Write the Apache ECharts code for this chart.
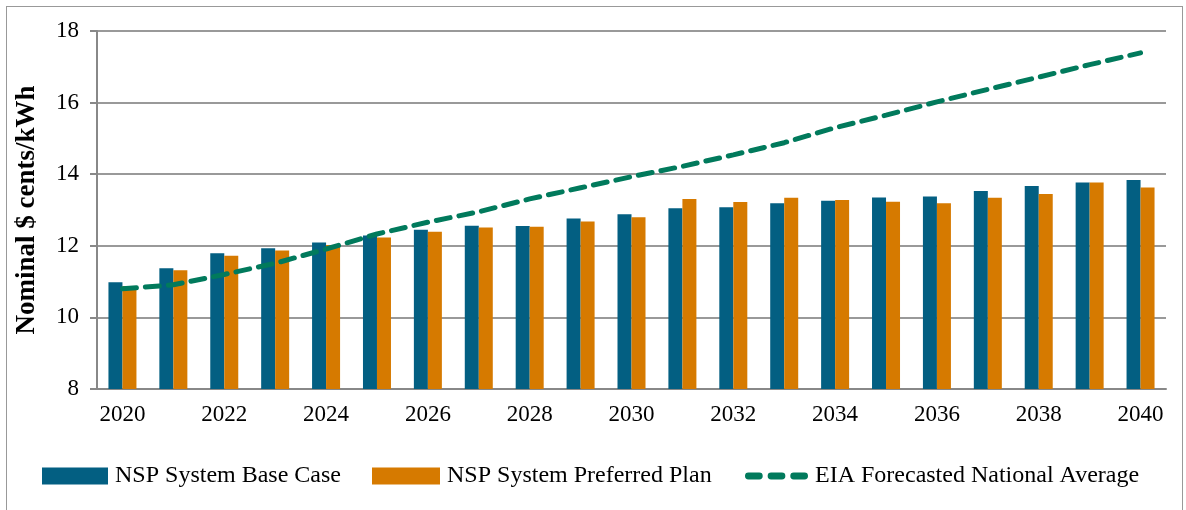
<!DOCTYPE html>
<html>
<head>
<meta charset="utf-8">
<script src="https://cdn.jsdelivr.net/npm/echarts@6/dist/echarts.min.js"></script>
<style>
  html, body { margin: 0; padding: 0; background: #fff; }
  #frame { position: absolute; left: 6px; top: 6px; width: 1177px; height: 510px; border: 1px solid #999; box-sizing: border-box; }
  #chart { width: 1186px; height: 510px; position: absolute; left: 0; top: 0; }
</style>
</head>
<body>
<div id="frame"></div>
<div id="chart"></div>
<script>
    // years on the x axis
    var years = [];
    for (var y = 2020; y <= 2040; y++) years.push(String(y));

    var baseCase = [10.98, 11.37, 11.79, 11.93, 12.09, 12.29, 12.45, 12.56, 12.55, 12.76, 12.88,
                    13.05, 13.08, 13.19, 13.26, 13.35, 13.38, 13.53, 13.67, 13.77, 13.84];
    var preferredPlan = [10.88, 11.32, 11.72, 11.87, 12.02, 12.23, 12.39, 12.51, 12.53, 12.68, 12.80,
                         13.31, 13.22, 13.34, 13.28, 13.23, 13.19, 13.34, 13.45, 13.77, 13.63];
    var eiaAverage = [10.80, 10.91, 11.20, 11.51, 11.91, 12.33, 12.66, 12.95, 13.31, 13.62, 13.93,
                      14.22, 14.54, 14.88, 15.30, 15.65, 16.02, 16.37, 16.71, 17.06, 17.39];

    var fontFam = '"Liberation Serif", "DejaVu Serif", serif';
    var legendText = { fontFamily: fontFam, fontSize: 24, color: '#000', padding: [0, 0, 0, 2] };
    // three short dashes, like the dashed line key
    var dashIcon = 'path://M3,0h11a3,3 0 0 1 0,7h-11a3,3 0 0 1 0,-7z' +
                   'M26,0h11a3,3 0 0 1 0,7h-11a3,3 0 0 1 0,-7z' +
                   'M49,0h11a3,3 0 0 1 0,7h-11a3,3 0 0 1 0,-7z';

    var chart = echarts.init(document.getElementById('chart'));

    chart.setOption({
        animation: false,
        textStyle: { fontFamily: fontFam },
        grid: { left: 97, right: 20, top: 31, bottom: 121 },
        legend: [{
            top: 464, left: 42, padding: 0, itemWidth: 66, itemHeight: 17, icon: 'rect',
            textStyle: legendText, data: ['NSP System Base Case']
        }, {
            top: 464, left: 372, padding: 0, itemWidth: 68, itemHeight: 17, icon: 'rect',
            textStyle: legendText, data: ['NSP System Preferred Plan']
        }, {
            top: 464, left: 745, padding: 0, itemWidth: 63, itemHeight: 7, icon: dashIcon,
            textStyle: legendText, data: ['EIA Forecasted National Average']
        }],
        xAxis: {
            type: 'category',
            data: years,
            axisLine: { lineStyle: { color: '#888', width: 2 } },
            axisTick: { interval: 0, length: 7, lineStyle: { color: '#888', width: 2 } },
            axisLabel: { interval: 1, color: '#000', fontSize: 23, margin: 14 }
        },
        yAxis: {
            type: 'value',
            min: 8,
            max: 18,
            interval: 2,
            name: 'Nominal $ cents/kWh',
            nameLocation: 'middle',
            nameGap: 56,
            nameTextStyle: { fontFamily: fontFam, fontSize: 27, fontWeight: 'bold', color: '#000' },
            axisLine: { show: true, lineStyle: { color: '#888', width: 2 } },
            axisTick: { show: true, length: 7, lineStyle: { color: '#888', width: 2 } },
            axisLabel: { color: '#000', fontSize: 23, margin: 18 },
            splitLine: { lineStyle: { color: '#999', width: 2 } }
        },
        series: [
            {
                name: 'NSP System Base Case',
                type: 'bar',
                data: baseCase,
                barWidth: 14,
                barGap: '0%',
                itemStyle: { color: '#035f82' }
            },
            {
                name: 'NSP System Preferred Plan',
                type: 'bar',
                data: preferredPlan,
                barWidth: 14,
                barGap: '0%',
                itemStyle: { color: '#d67a00' }
            },
            {
                name: 'EIA Forecasted National Average',
                type: 'line',
                data: eiaAverage,
                symbol: 'none',
                z: 5,
                lineStyle: { color: '#017a5c', width: 5, type: [14, 9], cap: 'round' },
                itemStyle: { color: '#017a5c' }
            }
        ]
    });
</script>
</body>
</html>
